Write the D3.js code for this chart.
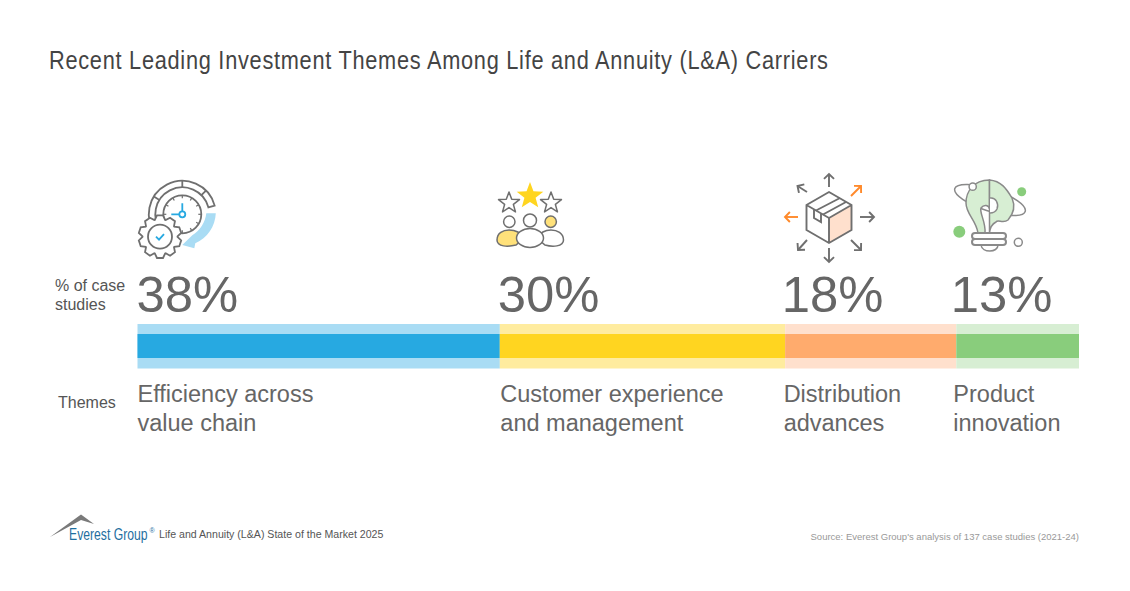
<!DOCTYPE html>
<html>
<head>
<meta charset="utf-8">
<script src="https://cdn.jsdelivr.net/npm/d3@7"></script>
<style>
  html, body { margin: 0; padding: 0; background: #fff; }
  text { font-family: "Liberation Sans", Arial, sans-serif; }
</style>
</head>
<body>
<svg id="chart" width="1130" height="591"></svg>
<script>
// Data
const themes = [['Efficiency across', 'value chain'], ['Customer experience', 'and management'], ['Distribution', 'advances'], ['Product', 'innovation']];
const shares = [38.1, 30, 18, 12.9];
const darkColors = ['#27a9e1', '#ffd520', '#ffab6d', '#89cd7c'];
const lightColors = ['#a9dcf4', '#ffec9f', '#ffe0cd', '#d7eed3'];

const titleText = 'Recent Leading Investment Themes Among Life and Annuity (L&A) Carriers';
const footerText = 'Life and Annuity (L&A) State of the Market 2025';
const sourceText = "Source: Everest Group's analysis of 137 case studies (2021-24)";

const grey = '#666';
const iconGrey = '#6f6f6f';

const svg = d3.select('#chart');

// Stacked scale
const x = d3.scaleLinear().domain([0, d3.sum(shares)]).range([137.5, 1079]);
const starts = d3.cumsum([0].concat(shares));

// Bars, light band behind and dark band in front
const bars = svg.append('g').selectAll('g').data(shares).join('g');
bars.append('rect')
    .attr('x', (d, i) => x(starts[i]))
    .attr('y', 324)
    .attr('width', d => x(d) - x(0))
    .attr('height', 44.5)
    .attr('fill', (d, i) => lightColors[i]);
bars.append('rect')
    .attr('x', (d, i) => x(starts[i]))
    .attr('y', 334)
    .attr('width', d => x(d) - x(0))
    .attr('height', 24)
    .attr('fill', (d, i) => darkColors[i]);

// the labels do not sit exactly on the segment edge
const pctShift = [-1, -2, -3.5, -5.5];
const themeShift = [0, 0.5, -1.5, -3];

svg.append('g').selectAll('text').data(shares).join('text')
    .attr('x', (d, i) => x(starts[i]) + pctShift[i])
    .attr('y', 312)
    .attr('font-size', 50.8)
    .attr('fill', grey)
    .text(d => Math.round(d) + '%');

themes.forEach((lines, i) => {
    lines.forEach((line, j) => {
        svg.append('text')
            .attr('x', x(starts[i]) + themeShift[i])
            .attr('y', 402 + j * 28.5)
            .attr('font-size', 23.5)
            .attr('fill', grey)
            .text(line);
    });
});

// Row labels
function plainText(str, px, py, size, color, anchor) {
    return svg.append('text')
        .attr('x', px).attr('y', py)
        .attr('font-size', size)
        .attr('fill', color)
        .attr('text-anchor', anchor || 'start')
        .text(str);
}
plainText('% of case', 55, 291, 16, '#555');
plainText('studies', 55, 310, 16, '#555');
plainText('Themes', 58, 408, 16, '#555');

// Title, glyphs are narrower in the original so squeeze them and open the spacing
plainText(titleText, 0, 0, 25, '#444')
    .attr('transform', 'translate(49,69) scale(0.87,1)')
    .attr('textLength', 779 / 0.87)
    .attr('lengthAdjust', 'spacing');

// Footer
plainText(footerText, 159, 538, 10.6, '#555');
plainText(sourceText, 1079, 539.5, 9.5, '#999', 'end');
svg.append('path').attr('d', 'M50,537 L81,514.5 L94,524 L81,520 Z').attr('fill', '#7a7a7a');
plainText('Everest Group', 0, 0, 16.5, '#1f6f9f')
    .attr('transform', 'translate(69,540) scale(0.74,1)');
plainText('®', 149.5, 533, 7, '#1f6f9f');

// Icons
function drawStar(g, cx, cy, r, fill, stroke) {
    const pts = d3.range(10).map(i => [i * Math.PI / 5, i % 2 ? r * 0.42 : r]);
    g.append('path')
        .attr('d', d3.lineRadial().curve(d3.curveLinearClosed)(pts))
        .attr('transform', `translate(${cx},${cy})`)
        .attr('fill', fill).attr('stroke', stroke).attr('stroke-width', 1.5).attr('stroke-linejoin', 'round');
}
function drawArrow(g, x1, y1, x2, y2) {
    const a = Math.atan2(y2 - y1, x2 - x1), h = 7;
    g.append('line').attr('x1', x1).attr('y1', y1).attr('x2', x2).attr('y2', y2);
    g.append('path')
        .attr('d', d3.line()([
            [x2 - h * Math.cos(a - 0.8), y2 - h * Math.sin(a - 0.8)],
            [x2, y2],
            [x2 - h * Math.cos(a + 0.8), y2 - h * Math.sin(a + 0.8)]
        ]))
        .attr('fill', 'none');
}

// clock and gear
function drawClockIcon() {
    const g = svg.append('g').attr('fill', 'none').attr('stroke', iconGrey).attr('stroke-width', 1.8);
    const c = g.append('g').attr('transform', 'translate(182.3,214.3)');
    const deg = Math.PI / 180;
    const ring = d3.arc().innerRadius(27).outerRadius(33.5);
    c.append('path').attr('d', ring({ startAngle: -130 * deg, endAngle: 75 * deg }));
    c.append('path').attr('fill', '#a9dcf4').attr('stroke', 'none')
        .attr('d', 'M33.5,-1 L24,-1 C23,8 18,16 10,21 L0,30.7 L12,34 L13,29 C25,24 33,12 33.5,-1 Z');
    [-58, 0, 45].forEach(a => {
        c.append('line')
            .attr('x1', 27 * Math.sin(a * deg)).attr('y1', -27 * Math.cos(a * deg))
            .attr('x2', 33.5 * Math.sin(a * deg)).attr('y2', -33.5 * Math.cos(a * deg));
    });
    c.append('circle').attr('r', 19).attr('fill', '#fff');
    d3.range(12).forEach(i => {
        const a = i * 30 * deg;
        c.append('line')
            .attr('x1', 16 * Math.sin(a)).attr('y1', -16 * Math.cos(a))
            .attr('x2', 19 * Math.sin(a)).attr('y2', -19 * Math.cos(a))
            .attr('stroke-width', 1.2);
    });
    c.append('path').attr('d', 'M0,-3 V-11 M-3,0 H-11').attr('stroke', '#27a9e1');
    c.append('circle').attr('r', 3).attr('stroke', '#27a9e1');

    const gear = g.append('g').attr('transform', 'translate(160,236.7)');
    const teeth = 10, gearPts = [];
    d3.range(teeth).forEach(i => {
        const a = i * 2 * Math.PI / teeth, w = Math.PI / teeth;
        [[a - w * 0.95, 17.5], [a - w * 0.45, 21.5], [a + w * 0.45, 21.5], [a + w * 0.95, 17.5]].forEach(p => gearPts.push(p));
    });
    gear.append('path').attr('d', d3.lineRadial().curve(d3.curveLinearClosed)(gearPts)).attr('fill', '#fff');
    gear.append('circle').attr('r', 12);
    gear.append('path').attr('d', 'M-4,0 L-1,3 L4,-2.5').attr('stroke', '#27a9e1');
}

// people and stars
function drawPeopleIcon() {
    const g = svg.append('g').attr('stroke', iconGrey).attr('stroke-width', 1.5);
    drawStar(g, 509, 203, 11, '#fff', iconGrey);
    drawStar(g, 551, 203, 11, '#fff', iconGrey);
    drawStar(g, 530, 196, 14, '#ffd520', 'none');
    g.append('circle').attr('cx', 509.3).attr('cy', 221.7).attr('r', 5.7).attr('fill', '#fff');
    g.append('circle').attr('cx', 530).attr('cy', 220.5).attr('r', 6.5).attr('fill', '#fff');
    g.append('circle').attr('cx', 550.7).attr('cy', 221.7).attr('r', 5.7).attr('fill', '#ffe17a');
    g.append('path').attr('d', 'M497,240 C497,233 503,230 509,230 C515,230 521,233 524,238 L516,245 C508,247 497,247 497,240 Z').attr('fill', '#ffe17a');
    g.append('path').attr('d', 'M563.5,240 C563.5,233 557,230 551,230 C545,230 540,233 537,238 L545,245 C552,247 563.5,247 563.5,240 Z').attr('fill', '#fff');
    g.append('ellipse').attr('cx', 530).attr('cy', 238).attr('rx', 13.5).attr('ry', 9.5).attr('fill', '#fff');
}

// box with arrows
function drawBoxIcon() {
    const g = svg.append('g').attr('fill', 'none').attr('stroke', iconGrey).attr('stroke-width', 1.9);
    g.append('path').attr('d', 'M829,218 L851.5,205 V230 L829,243 Z').attr('fill', '#ffe0cd').attr('stroke', 'none');
    g.append('path').attr('d', 'M829,192 L851.5,205 V230 L829,243 L806.5,230 V205 Z M806.5,205 L829,218 L851.5,205 M829,218 V243');
    g.append('path').attr('d', 'M816,210.5 L840,198 M823,214.5 L846,202 M814,209.5 V218 L821,222 V214');
    const gr = g.append('g');
    drawArrow(gr, 829, 187, 829, 174);
    drawArrow(gr, 807, 192, 797.5, 186);
    drawArrow(gr, 860, 217, 874, 217);
    drawArrow(gr, 851, 240, 861, 250);
    drawArrow(gr, 829, 248, 829, 262);
    drawArrow(gr, 807, 240, 798, 250);
    const or = g.append('g').attr('stroke', '#ff8a2b');
    drawArrow(or, 851, 196, 861, 186);
    drawArrow(or, 798, 217, 785, 217);
}

// light bulb
function drawBulbIcon() {
    const g = svg.append('g').attr('fill', 'none').attr('stroke', '#8a8a8a').attr('stroke-width', 1.5);
    g.append('ellipse').attr('cx', 990).attr('cy', 200).attr('rx', 37).attr('ry', 11).attr('transform', 'rotate(18,990,200)');
    g.append('path').attr('fill', '#d7eed3')
        .attr('d', 'M989.5,180 C973,180 966,192 966,203 C966,214 976,220 978,233 H985 C986,222 979,212 981,208 C984,204 989,205 989.5,209 Z');
    g.append('path').attr('fill', '#d7eed3')
        .attr('d', 'M989.5,180 C1002,181 1007,190 1012,198 C1015,205 1015,212 1008,220 C1003,224 998,219 996,222 C992,224 990,228 989.5,233 Z');
    g.append('path').attr('d', 'M990,198 C996,197 999,204 997,209 C995,213 991,213 990,213').attr('fill', '#fff');
    g.append('path').attr('stroke-width', 2).attr('fill', '#fff').attr('d', 'M975,233 H1003 A3,3 0 0 1 1003,239 H975 A3,3 0 0 1 975,233 Z M975,239 H1003 A3,3 0 0 1 1003,245 H975 A3,3 0 0 1 975,239 Z');
    g.append('path').attr('d', 'M981,245 C982,253 998,253 998,245');
    g.append('circle').attr('cx', 972.7).attr('cy', 186.7).attr('r', 3.6).attr('fill', '#fff');
    g.append('circle').attr('cx', 1018.3).attr('cy', 242.3).attr('r', 4).attr('fill', '#fff');
    g.append('circle').attr('cx', 1021.7).attr('cy', 191.7).attr('r', 4.5).attr('fill', '#89cd7c').attr('stroke', 'none');
    g.append('circle').attr('cx', 959.3).attr('cy', 231.7).attr('r', 6).attr('fill', '#89cd7c').attr('stroke', 'none');
}

drawClockIcon();
drawPeopleIcon();
drawBoxIcon();
drawBulbIcon();
</script>
</body>
</html>
